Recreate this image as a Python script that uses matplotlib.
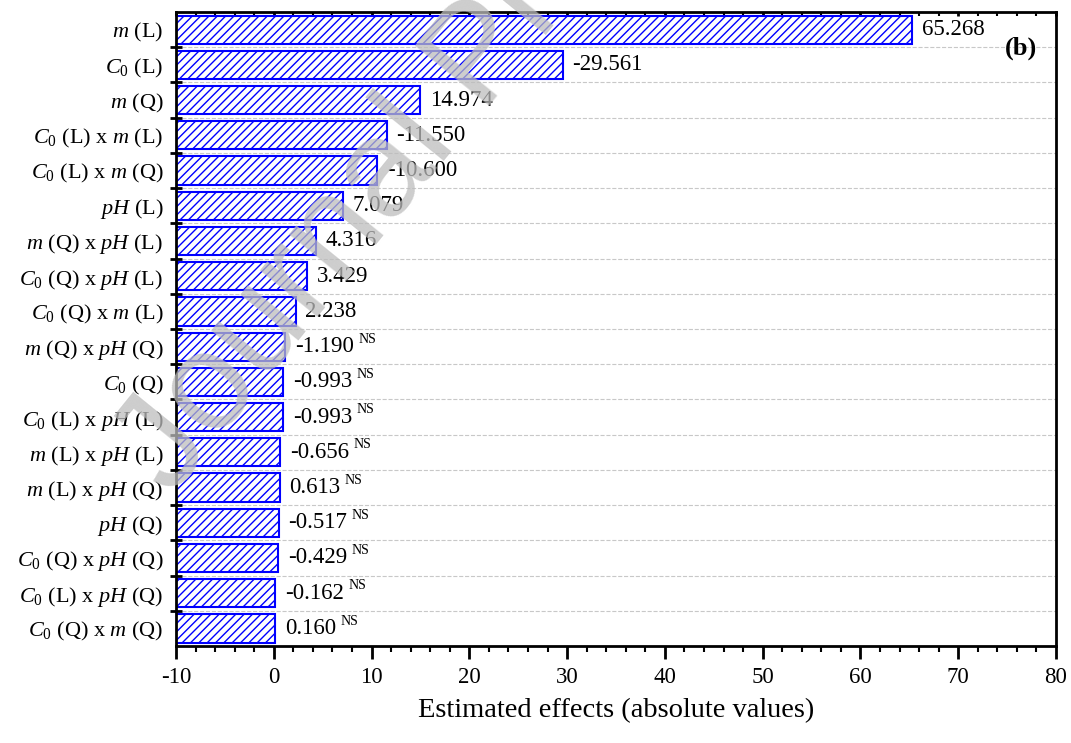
import matplotlib
matplotlib.use('Agg')
import matplotlib.pyplot as plt
import numpy as np

plt.rcParams['font.family'] = 'Liberation Serif'
plt.rcParams['mathtext.fontset'] = 'custom'
plt.rcParams['mathtext.rm'] = 'Liberation Serif'
plt.rcParams['mathtext.it'] = 'Liberation Serif:italic'
plt.rcParams['mathtext.bf'] = 'Liberation Serif:bold'
plt.rcParams['hatch.linewidth'] = 1.0
plt.rcParams['axes.unicode_minus'] = False

# effects, top to bottom
termos = [r'$m$ (L)', r'$C_{\mathit{0}}$ (L)', r'$m$ (Q)',
          r'$C_{\mathit{0}}$ (L) x $m$ (L)', r'$C_{\mathit{0}}$ (L) x $m$ (Q)',
          r'$pH$ (L)', r'$m$ (Q) x $pH$ (L)', r'$C_{\mathit{0}}$ (Q) x $pH$ (L)',
          r'$C_{\mathit{0}}$ (Q) x $m$ (L)', r'$m$ (Q) x $pH$ (Q)',
          r'$C_{\mathit{0}}$ (Q)', r'$C_{\mathit{0}}$ (L) x $pH$ (L)',
          r'$m$ (L) x $pH$ (L)', r'$m$ (L) x $pH$ (Q)', r'$pH$ (Q)',
          r'$C_{\mathit{0}}$ (Q) x $pH$ (Q)', r'$C_{\mathit{0}}$ (L) x $pH$ (Q)',
          r'$C_{\mathit{0}}$ (Q) x $m$ (Q)']
efectos = [65.268, -29.561, 14.974, -11.550, -10.600, 7.079, 4.316, 3.429, 2.238,
           -1.190, -0.993, -0.993, -0.656, 0.613, -0.517, -0.429, -0.162, 0.160]
significativo = [True]*9 + [False]*9

xmin = -10
pos = np.arange(len(termos))
absol = np.abs(efectos)

fig = plt.figure(figsize=(10.71, 7.43), dpi=100)
ax = fig.add_axes([0.1643, 0.1305, 0.8217, 0.8533])

ax.barh(pos, absol - xmin, left=xmin, height=0.8, color='white',
        edgecolor='#0000ff', hatch='////', linewidth=1.5, zorder=2)

for i in range(len(termos)):
    t = ax.annotate('%.3f' % efectos[i], xy=(absol[i], pos[i]), xytext=(7, 0),
                    textcoords='offset points', va='center', ha='left', fontsize=16.5)
    if not significativo[i]:
        ax.annotate('NS', xy=(1, 0.85), xycoords=t, xytext=(3, 0),
                    textcoords='offset points', va='center', ha='left', fontsize=10)

ax.set_xlim(-10, 80)
ax.set_ylim(len(termos) - 0.5, -0.5)
ax.set_xticks(np.arange(-10, 81, 10))
ax.set_xticks(np.arange(-10, 81, 2), minor=True)
ax.set_yticks(pos)
ax.set_yticklabels(termos, fontsize=16)
ax.set_yticks(np.arange(0.5, len(termos) - 0.5, 1), minor=True)
ax.tick_params(axis='y', which='major', length=0, pad=9)
ax.tick_params(axis='y', which='minor', direction='inout', length=8, width=2)
ax.tick_params(axis='x', which='major', direction='out', length=9, width=2,
               labelsize=16.5, pad=6, top=True)
ax.tick_params(axis='x', which='minor', direction='out', length=4.5, width=1.5, top=True)
for s in ax.spines.values():
    s.set_linewidth(2)
ax.grid(axis='y', which='minor', linestyle='--', color='#c8c8c8', linewidth=0.8, zorder=0)
ax.set_axisbelow(True)
ax.set_xlabel('Estimated effects (absolute values)', fontsize=20.5, labelpad=7)

ax.text(0.96, 0.943, '(b)', transform=ax.transAxes, fontsize=19, fontweight='bold',
        ha='center', va='center')

# marca de agua
fig.text(0.16, 0.33, 'Journal Pre-proof', fontsize=100, family='Liberation Sans',
         color='#bdbdbd', alpha=0.75, rotation=51, rotation_mode='anchor',
         ha='left', va='baseline', zorder=10)

# top ticks point inward and short
for tk in ax.xaxis.get_major_ticks() + ax.xaxis.get_minor_ticks():
    tk.tick2line.set_marker(3)
    tk.tick2line.set_markersize(3)

fig.savefig('out.png', dpi=100)
